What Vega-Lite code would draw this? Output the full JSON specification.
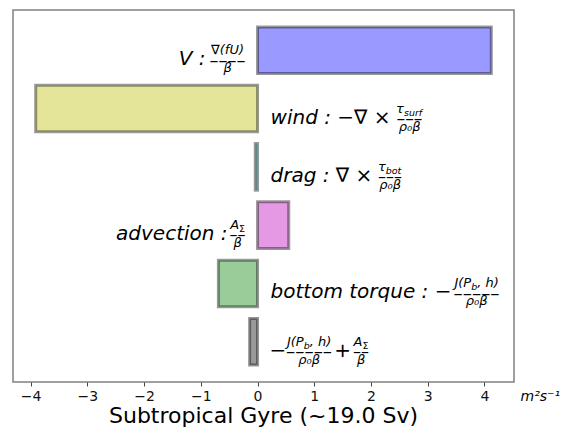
{
  "$schema": "https://vega.github.io/schema/vega-lite/v6.json",
  "width": 501,
  "height": 372,
  "autosize": "none",
  "padding": {"left": 13, "top": 10, "right": 56, "bottom": 53},
  "background": "white",
  "title": {"text": "Subtropical Gyre (~19.0 Sv)", "orient": "bottom", "anchor": "middle", "frame": "group", "fontSize": 22, "font": "DejaVu Sans", "fontWeight": "normal", "color": "#000", "offset": 3},
  "config": {
    "view": {"stroke": "#808080", "strokeWidth": 1.5},
    "text": {"font": "DejaVu Sans", "color": "#000", "baseline": "alphabetic"},
    "axis": {"grid": false}
  },
  "datasets": {
    "bars": [
      {"term": "V", "value": 4.12},
      {"term": "wind", "value": -3.91},
      {"term": "drag", "value": -0.04},
      {"term": "advection", "value": 0.55},
      {"term": "bottom torque", "value": -0.69},
      {"term": "total", "value": -0.14}
    ],
    "labels": [
      {"id": "V_main", "term": "V", "text": "V :"},
      {"id": "V_num", "term": "V", "text": "∇(fU)"},
      {"id": "V_bar", "term": "V", "text": "––––"},
      {"id": "V_den", "term": "V", "text": "β"},
      {"id": "wind_main", "term": "wind", "text": "wind : −∇ ×"},
      {"id": "wind_tau", "term": "wind", "text": "τ"},
      {"id": "wind_sub", "term": "wind", "text": "surf"},
      {"id": "wind_bar", "term": "wind", "text": "–––"},
      {"id": "wind_den", "term": "wind", "text": "ρ₀β"},
      {"id": "drag_main", "term": "drag", "text": "drag : ∇ ×"},
      {"id": "drag_tau", "term": "drag", "text": "τ"},
      {"id": "drag_sub", "term": "drag", "text": "bot"},
      {"id": "drag_bar", "term": "drag", "text": "–––"},
      {"id": "drag_den", "term": "drag", "text": "ρ₀β"},
      {"id": "adv_main", "term": "advection", "text": "advection :"},
      {"id": "adv_A", "term": "advection", "text": "A"},
      {"id": "adv_sub", "term": "advection", "text": "Σ"},
      {"id": "adv_bar", "term": "advection", "text": "––"},
      {"id": "adv_den", "term": "advection", "text": "β"},
      {"id": "bt_main", "term": "bottom torque", "text": "bottom torque : −"},
      {"id": "bt_J", "term": "bottom torque", "text": "J(P"},
      {"id": "bt_b", "term": "bottom torque", "text": "b"},
      {"id": "bt_h", "term": "bottom torque", "text": ", h)"},
      {"id": "bt_bar", "term": "bottom torque", "text": "–––––"},
      {"id": "bt_den", "term": "bottom torque", "text": "ρ₀β"},
      {"id": "tot_minus", "term": "total", "text": "−"},
      {"id": "tot_J", "term": "total", "text": "J(P"},
      {"id": "tot_b", "term": "total", "text": "b"},
      {"id": "tot_h", "term": "total", "text": ", h)"},
      {"id": "tot_bar", "term": "total", "text": "–––––"},
      {"id": "tot_den", "term": "total", "text": "ρ₀β"},
      {"id": "tot_plus", "term": "total", "text": "+"},
      {"id": "tot_A", "term": "total", "text": "A"},
      {"id": "tot_sub", "term": "total", "text": "Σ"},
      {"id": "tot_bar2", "term": "total", "text": "––"},
      {"id": "tot_den2", "term": "total", "text": "β"}
    ]
  },
  "encoding": {
    "y": {"field": "term", "type": "nominal", "axis": null,
          "scale": {"domain": ["V", "wind", "drag", "advection", "bottom torque", "total"], "paddingInner": 0.2, "paddingOuter": 0.29}}
  },
  "layer": [
    {
      "data": {"name": "bars"},
      "mark": {"type": "bar", "fillOpacity": 0.4, "stroke": "#000", "strokeOpacity": 0.4, "strokeWidth": 3},
      "encoding": {
        "x": {"field": "value", "type": "quantitative",
              "scale": {"domain": [-4.31, 4.52], "nice": false, "zero": false},
              "axis": {"values": [-4, -3, -2, -1, 0, 1, 2, 3, 4], "format": "d", "labelExpr": "replace(datum.label, '-', '−')", "domain": false, "grid": false,
                       "tickColor": "#444", "tickSize": 4, "tickWidth": 1,
                       "labelFont": "DejaVu Sans", "labelFontSize": 14, "labelColor": "#111", "labelPadding": 3,
                       "title": "m²s⁻¹", "titleFont": "DejaVu Sans", "titleFontStyle": "italic", "titleFontWeight": "normal", "titleFontSize": 14, "titleColor": "#000",
                       "titleX": 507, "titleY": 18, "titleAlign": "left", "titleBaseline": "alphabetic", "titleAngle": 0}},
        "x2": {"datum": 0},
        "color": {"field": "term", "type": "nominal", "legend": null,
                  "scale": {"domain": ["V", "wind", "drag", "advection", "bottom torque", "total"],
                            "range": ["#0000ff", "#bfbf00", "#00bfbf", "#bf00bf", "#008000", "#000000"]}}
      }
    },
    {"data": {"name": "labels"}, "transform": [{"filter": "datum.id === 'V_main'"}], "mark": {"type": "text", "align": "right", "dx": -52, "dy": 15, "fontSize": 20, "fontStyle": "italic"}, "encoding": {"x": {"datum": 0, "type": "quantitative"}, "text": {"field": "text"}}},
    {"data": {"name": "labels"}, "transform": [{"filter": "datum.id === 'V_num'"}], "mark": {"type": "text", "align": "center", "dx": -30, "dy": 4, "fontSize": 13, "fontStyle": "italic"}, "encoding": {"x": {"datum": 0, "type": "quantitative"}, "text": {"field": "text"}}},
    {"data": {"name": "labels"}, "transform": [{"filter": "datum.id === 'V_bar'"}], "mark": {"type": "text", "align": "center", "dx": -30, "dy": 15.5, "fontSize": 18}, "encoding": {"x": {"datum": 0, "type": "quantitative"}, "text": {"field": "text"}}},
    {"data": {"name": "labels"}, "transform": [{"filter": "datum.id === 'V_den'"}], "mark": {"type": "text", "align": "center", "dx": -30, "dy": 22, "fontSize": 13, "fontStyle": "italic"}, "encoding": {"x": {"datum": 0, "type": "quantitative"}, "text": {"field": "text"}}},

    {"data": {"name": "labels"}, "transform": [{"filter": "datum.id === 'wind_main'"}], "mark": {"type": "text", "align": "left", "dx": 13, "dy": 15, "fontSize": 20, "fontStyle": "italic"}, "encoding": {"x": {"datum": 0, "type": "quantitative"}, "text": {"field": "text"}}},
    {"data": {"name": "labels"}, "transform": [{"filter": "datum.id === 'wind_tau'"}], "mark": {"type": "text", "align": "right", "dx": 146.4, "dy": 4, "fontSize": 13, "fontStyle": "italic"}, "encoding": {"x": {"datum": 0, "type": "quantitative"}, "text": {"field": "text"}}},
    {"data": {"name": "labels"}, "transform": [{"filter": "datum.id === 'wind_sub'"}], "mark": {"type": "text", "align": "left", "dx": 146.4, "dy": 7, "fontSize": 9.5, "fontStyle": "italic"}, "encoding": {"x": {"datum": 0, "type": "quantitative"}, "text": {"field": "text"}}},
    {"data": {"name": "labels"}, "transform": [{"filter": "datum.id === 'wind_bar'"}], "mark": {"type": "text", "align": "center", "dx": 152, "dy": 15.4, "fontSize": 17.3}, "encoding": {"x": {"datum": 0, "type": "quantitative"}, "text": {"field": "text"}}},
    {"data": {"name": "labels"}, "transform": [{"filter": "datum.id === 'wind_den'"}], "mark": {"type": "text", "align": "center", "dx": 152, "dy": 22, "fontSize": 13, "fontStyle": "italic"}, "encoding": {"x": {"datum": 0, "type": "quantitative"}, "text": {"field": "text"}}},

    {"data": {"name": "labels"}, "transform": [{"filter": "datum.id === 'drag_main'"}], "mark": {"type": "text", "align": "left", "dx": 13, "dy": 15, "fontSize": 20, "fontStyle": "italic"}, "encoding": {"x": {"datum": 0, "type": "quantitative"}, "text": {"field": "text"}}},
    {"data": {"name": "labels"}, "transform": [{"filter": "datum.id === 'drag_tau'"}], "mark": {"type": "text", "align": "right", "dx": 128.2, "dy": 4, "fontSize": 13, "fontStyle": "italic"}, "encoding": {"x": {"datum": 0, "type": "quantitative"}, "text": {"field": "text"}}},
    {"data": {"name": "labels"}, "transform": [{"filter": "datum.id === 'drag_sub'"}], "mark": {"type": "text", "align": "left", "dx": 128.2, "dy": 7, "fontSize": 9.5, "fontStyle": "italic"}, "encoding": {"x": {"datum": 0, "type": "quantitative"}, "text": {"field": "text"}}},
    {"data": {"name": "labels"}, "transform": [{"filter": "datum.id === 'drag_bar'"}], "mark": {"type": "text", "align": "center", "dx": 132.5, "dy": 15.2, "fontSize": 16}, "encoding": {"x": {"datum": 0, "type": "quantitative"}, "text": {"field": "text"}}},
    {"data": {"name": "labels"}, "transform": [{"filter": "datum.id === 'drag_den'"}], "mark": {"type": "text", "align": "center", "dx": 132.5, "dy": 22, "fontSize": 13, "fontStyle": "italic"}, "encoding": {"x": {"datum": 0, "type": "quantitative"}, "text": {"field": "text"}}},

    {"data": {"name": "labels"}, "transform": [{"filter": "datum.id === 'adv_main'"}], "mark": {"type": "text", "align": "right", "dx": -30, "dy": 15, "fontSize": 20, "fontStyle": "italic"}, "encoding": {"x": {"datum": 0, "type": "quantitative"}, "text": {"field": "text"}}},
    {"data": {"name": "labels"}, "transform": [{"filter": "datum.id === 'adv_A'"}], "mark": {"type": "text", "align": "right", "dx": -18.5, "dy": 4, "fontSize": 13, "fontStyle": "italic"}, "encoding": {"x": {"datum": 0, "type": "quantitative"}, "text": {"field": "text"}}},
    {"data": {"name": "labels"}, "transform": [{"filter": "datum.id === 'adv_sub'"}], "mark": {"type": "text", "align": "left", "dx": -18.5, "dy": 7, "fontSize": 9.5}, "encoding": {"x": {"datum": 0, "type": "quantitative"}, "text": {"field": "text"}}},
    {"data": {"name": "labels"}, "transform": [{"filter": "datum.id === 'adv_bar'"}], "mark": {"type": "text", "align": "center", "dx": -20, "dy": 15.2, "fontSize": 16}, "encoding": {"x": {"datum": 0, "type": "quantitative"}, "text": {"field": "text"}}},
    {"data": {"name": "labels"}, "transform": [{"filter": "datum.id === 'adv_den'"}], "mark": {"type": "text", "align": "center", "dx": -20, "dy": 22, "fontSize": 13, "fontStyle": "italic"}, "encoding": {"x": {"datum": 0, "type": "quantitative"}, "text": {"field": "text"}}},

    {"data": {"name": "labels"}, "transform": [{"filter": "datum.id === 'bt_main'"}], "mark": {"type": "text", "align": "left", "dx": 13, "dy": 15, "fontSize": 20, "fontStyle": "italic"}, "encoding": {"x": {"datum": 0, "type": "quantitative"}, "text": {"field": "text"}}},
    {"data": {"name": "labels"}, "transform": [{"filter": "datum.id === 'bt_J'"}], "mark": {"type": "text", "align": "left", "dx": 196.9, "dy": 4, "fontSize": 13, "fontStyle": "italic"}, "encoding": {"x": {"datum": 0, "type": "quantitative"}, "text": {"field": "text"}}},
    {"data": {"name": "labels"}, "transform": [{"filter": "datum.id === 'bt_b'"}], "mark": {"type": "text", "align": "left", "dx": 213.6, "dy": 7, "fontSize": 9.5, "fontStyle": "italic"}, "encoding": {"x": {"datum": 0, "type": "quantitative"}, "text": {"field": "text"}}},
    {"data": {"name": "labels"}, "transform": [{"filter": "datum.id === 'bt_h'"}], "mark": {"type": "text", "align": "left", "dx": 219.6, "dy": 4, "fontSize": 13, "fontStyle": "italic"}, "encoding": {"x": {"datum": 0, "type": "quantitative"}, "text": {"field": "text"}}},
    {"data": {"name": "labels"}, "transform": [{"filter": "datum.id === 'bt_bar'"}], "mark": {"type": "text", "align": "center", "dx": 219, "dy": 15.6, "fontSize": 18.4}, "encoding": {"x": {"datum": 0, "type": "quantitative"}, "text": {"field": "text"}}},
    {"data": {"name": "labels"}, "transform": [{"filter": "datum.id === 'bt_den'"}], "mark": {"type": "text", "align": "center", "dx": 219, "dy": 22, "fontSize": 13, "fontStyle": "italic"}, "encoding": {"x": {"datum": 0, "type": "quantitative"}, "text": {"field": "text"}}},

    {"data": {"name": "labels"}, "transform": [{"filter": "datum.id === 'tot_minus'"}], "mark": {"type": "text", "align": "left", "dx": 12, "dy": 15, "fontSize": 20}, "encoding": {"x": {"datum": 0, "type": "quantitative"}, "text": {"field": "text"}}},
    {"data": {"name": "labels"}, "transform": [{"filter": "datum.id === 'tot_J'"}], "mark": {"type": "text", "align": "left", "dx": 29.4, "dy": 4, "fontSize": 13, "fontStyle": "italic"}, "encoding": {"x": {"datum": 0, "type": "quantitative"}, "text": {"field": "text"}}},
    {"data": {"name": "labels"}, "transform": [{"filter": "datum.id === 'tot_b'"}], "mark": {"type": "text", "align": "left", "dx": 46.1, "dy": 7, "fontSize": 9.5, "fontStyle": "italic"}, "encoding": {"x": {"datum": 0, "type": "quantitative"}, "text": {"field": "text"}}},
    {"data": {"name": "labels"}, "transform": [{"filter": "datum.id === 'tot_h'"}], "mark": {"type": "text", "align": "left", "dx": 52.1, "dy": 4, "fontSize": 13, "fontStyle": "italic"}, "encoding": {"x": {"datum": 0, "type": "quantitative"}, "text": {"field": "text"}}},
    {"data": {"name": "labels"}, "transform": [{"filter": "datum.id === 'tot_bar'"}], "mark": {"type": "text", "align": "center", "dx": 51.5, "dy": 15.6, "fontSize": 18.4}, "encoding": {"x": {"datum": 0, "type": "quantitative"}, "text": {"field": "text"}}},
    {"data": {"name": "labels"}, "transform": [{"filter": "datum.id === 'tot_den'"}], "mark": {"type": "text", "align": "center", "dx": 51.5, "dy": 22, "fontSize": 13, "fontStyle": "italic"}, "encoding": {"x": {"datum": 0, "type": "quantitative"}, "text": {"field": "text"}}},
    {"data": {"name": "labels"}, "transform": [{"filter": "datum.id === 'tot_plus'"}], "mark": {"type": "text", "align": "center", "dx": 85, "dy": 15, "fontSize": 20}, "encoding": {"x": {"datum": 0, "type": "quantitative"}, "text": {"field": "text"}}},
    {"data": {"name": "labels"}, "transform": [{"filter": "datum.id === 'tot_A'"}], "mark": {"type": "text", "align": "right", "dx": 104.9, "dy": 4, "fontSize": 13, "fontStyle": "italic"}, "encoding": {"x": {"datum": 0, "type": "quantitative"}, "text": {"field": "text"}}},
    {"data": {"name": "labels"}, "transform": [{"filter": "datum.id === 'tot_sub'"}], "mark": {"type": "text", "align": "left", "dx": 104.9, "dy": 7, "fontSize": 9.5}, "encoding": {"x": {"datum": 0, "type": "quantitative"}, "text": {"field": "text"}}},
    {"data": {"name": "labels"}, "transform": [{"filter": "datum.id === 'tot_bar2'"}], "mark": {"type": "text", "align": "center", "dx": 103.5, "dy": 15.2, "fontSize": 16}, "encoding": {"x": {"datum": 0, "type": "quantitative"}, "text": {"field": "text"}}},
    {"data": {"name": "labels"}, "transform": [{"filter": "datum.id === 'tot_den2'"}], "mark": {"type": "text", "align": "center", "dx": 103.5, "dy": 22, "fontSize": 13, "fontStyle": "italic"}, "encoding": {"x": {"datum": 0, "type": "quantitative"}, "text": {"field": "text"}}}
  ]
}
